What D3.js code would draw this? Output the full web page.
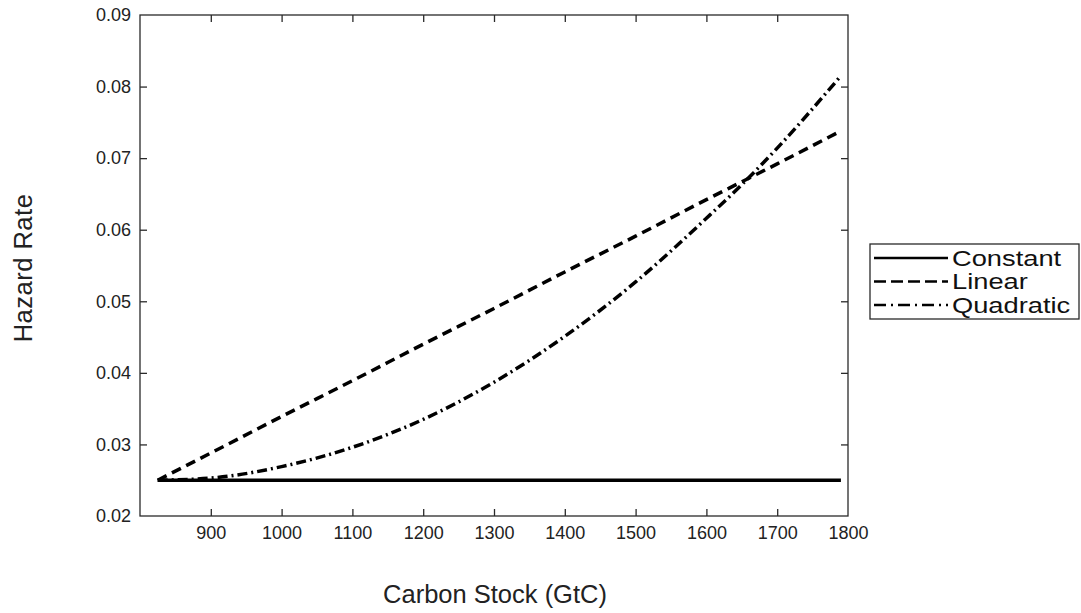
<!DOCTYPE html>
<html>
<head>
<meta charset="utf-8">
<script src="https://cdn.jsdelivr.net/npm/d3@7"></script>
<style>
  body { margin: 0; background: #fff; }
  text { font-family: "Liberation Sans", Arial, sans-serif; }
</style>
</head>
<body>
<div class="container"></div>
<script>
let width = 1081
let height = 613

// values
let carbon = [825, 900, 1000, 1100, 1200, 1300, 1400, 1500, 1600, 1650, 1700, 1790]
let constantRate = [0.025, 0.025, 0.025, 0.025, 0.025, 0.025, 0.025, 0.025, 0.025, 0.025, 0.025, 0.025]
let linearRate = [0.025, 0.0288, 0.0339, 0.0389, 0.0440, 0.0490, 0.0541, 0.0591, 0.0642, 0.0667, 0.0692, 0.0738]
let quadraticRate = [0.025, 0.0253, 0.0269, 0.0296, 0.0335, 0.0387, 0.0451, 0.0527, 0.0616, 0.0663, 0.0714, 0.0815]
let seriesNames = ["Constant", "Linear", "Quadratic"]
let xTicks = [900, 1000, 1100, 1200, 1300, 1400, 1500, 1600, 1700, 1800]
let yTicks = [0.02, 0.03, 0.04, 0.05, 0.06, 0.07, 0.08, 0.09]

let dashes = [null, "10,6", "10,4,2,4"]
let series = [constantRate, linearRate, quadraticRate]

let plotLeft = 140, plotRight = 848, plotTop = 15, plotBottom = 516

let x = d3.scaleLinear().domain([800, 1800]).range([plotLeft, plotRight])
let y = d3.scaleLinear().domain([0.02, 0.09]).range([plotBottom, plotTop])

let svg = d3.select(".container")
  .append("svg")
  .attr("width", width)
  .attr("height", height)

let axisColor = "#2a2a2a"

// frame
svg.append("rect")
  .attr("x", plotLeft).attr("y", plotTop)
  .attr("width", plotRight - plotLeft).attr("height", plotBottom - plotTop)
  .attr("fill", "none")
  .attr("stroke", axisColor)
  .attr("stroke-width", 1.3)

function styleAxis(g) {
  g.select(".domain").remove()
  g.selectAll("line").attr("stroke", axisColor).attr("stroke-width", 1.3)
  g.selectAll("text")
    .attr("fill", "#222")
    .style("font-size", "18px")
}

svg.append("g")
  .attr("transform", `translate(0,${plotBottom})`)
  .call(d3.axisBottom(x).tickValues(xTicks).tickSize(-7).tickPadding(10).tickFormat(d3.format("d")))
  .call(styleAxis)

svg.append("g")
  .attr("transform", `translate(0,${plotTop})`)
  .call(d3.axisTop(x).tickValues(xTicks).tickSize(-7).tickFormat(""))
  .call(styleAxis)

svg.append("g")
  .attr("transform", `translate(${plotLeft},0)`)
  .call(d3.axisLeft(y).tickValues(yTicks).tickSize(-7).tickPadding(9).tickFormat(d3.format(".2f")))
  .call(styleAxis)

svg.append("g")
  .attr("transform", `translate(${plotRight},0)`)
  .call(d3.axisRight(y).tickValues(yTicks).tickSize(-7).tickFormat(""))
  .call(styleAxis)

// remove ticks that sit on the frame corners
svg.selectAll(".tick").filter(function (d) { return d === 1800 || d === 0.02 || d === 0.09 })
  .select("line").remove()

let line = d3.line()
  .x(function (d, i) { return x(carbon[i]) })
  .y(function (d) { return y(d) })
  .curve(d3.curveMonotoneX)

svg.selectAll(".series")
  .data(series)
  .enter()
  .append("path")
  .attr("class", "series")
  .attr("d", function (d) { return line(d) })
  .attr("fill", "none")
  .attr("stroke", "#000")
  .attr("stroke-width", 3.5)
  .attr("stroke-dasharray", function (d, i) { return dashes[i] })

// axis titles
svg.append("text")
  .attr("x", 495)
  .attr("y", 603)
  .attr("text-anchor", "middle")
  .attr("fill", "#222")
  .style("font-size", "25.5px")
  .text("Carbon Stock (GtC)")

svg.append("text")
  .attr("transform", `translate(32,268) rotate(-90)`)
  .attr("text-anchor", "middle")
  .attr("fill", "#222")
  .style("font-size", "25.5px")
  .style("letter-spacing", "0.5px")
  .text("Hazard Rate")

// legend
let legend = svg.append("g")
legend.append("rect")
  .attr("x", 870).attr("y", 244)
  .attr("width", 209).attr("height", 75)
  .attr("fill", "#fff")
  .attr("stroke", axisColor)
  .attr("stroke-width", 1.3)

let rows = legend.selectAll(".legendRow")
  .data(seriesNames)
  .enter()
  .append("g")
  .attr("class", "legendRow")
  .attr("transform", function (d, i) { return `translate(0,${258 + i * 23.5})` })

rows.append("line")
  .attr("x1", 874).attr("x2", 948)
  .attr("stroke", "#000")
  .attr("stroke-width", 2.4)
  .attr("stroke-dasharray", function (d, i) { return i === 1 ? "12,5" : i === 2 ? "12,5,2,5" : null })

rows.append("text")
  .attr("transform", "translate(952,0) scale(1.24,1)")
  .attr("dy", "0.36em")
  .attr("fill", "#111")
  .style("font-size", "22px")
  .text(function (d) { return d })
</script>
</body>
</html>
